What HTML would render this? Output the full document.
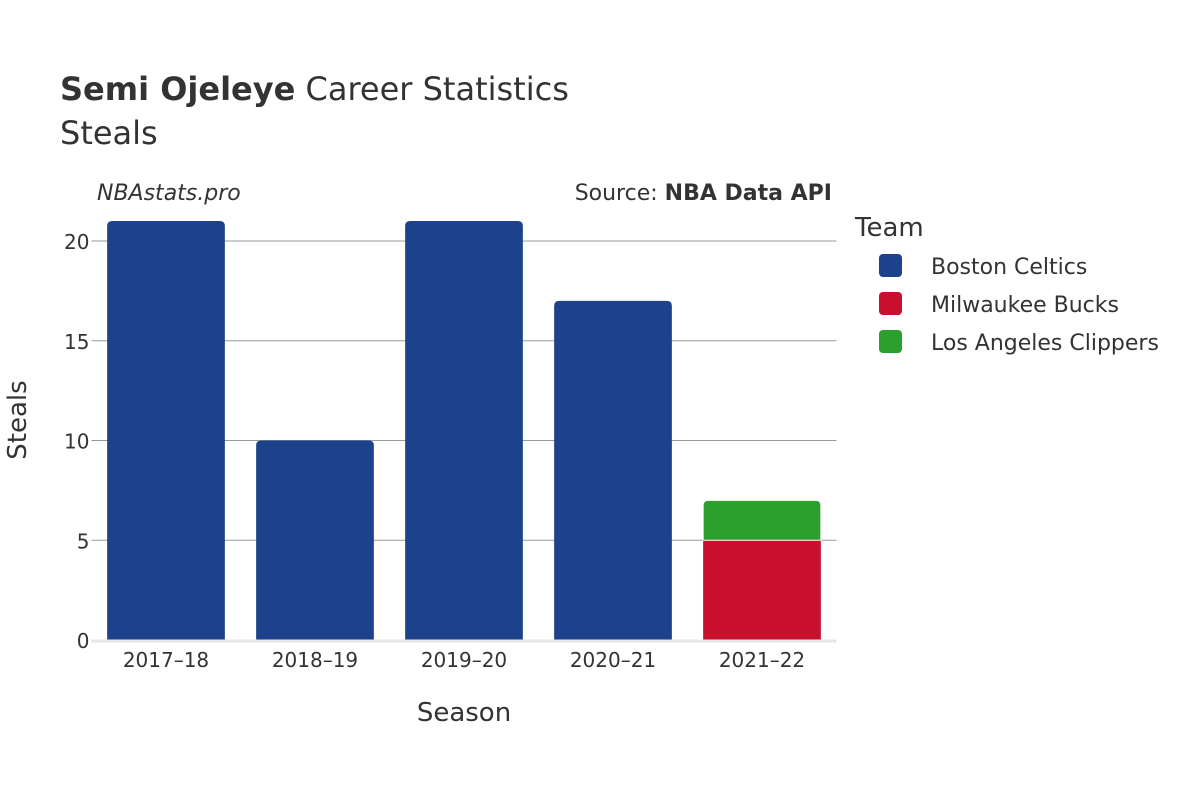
<!DOCTYPE html>
<html><head><meta charset="utf-8"><style>
body{margin:0;background:#fff;}
svg text{font-family:"DejaVu Sans","Liberation Sans",sans-serif;fill:#333;}
</style></head><body>
<svg id="chart" width="1200" height="800" viewBox="0 0 1200 800" xmlns="http://www.w3.org/2000/svg">
<text x="60" y="100" font-size="32"><tspan font-weight="bold">Semi Ojeleye</tspan> Career Statistics</text>
<text x="60" y="144" font-size="32">Steals</text>
<text x="97" y="200" font-size="22" font-style="italic">NBAstats.pro</text>
<text x="832" y="200" font-size="22" text-anchor="end">Source: <tspan font-weight="bold">NBA Data API</tspan></text>
<g id="grid"></g>
<g id="bars"></g>
<g id="xticks"></g>
<text x="464" y="721" font-size="26" text-anchor="middle">Season</text>
<text transform="translate(26,420) rotate(-90)" font-size="26" text-anchor="middle">Steals</text>
<text x="855" y="236" font-size="26">Team</text>
<g id="legend"></g>
</svg>
<script>
const seasons = ["2017–18","2018–19","2019–20","2020–21","2021–22"];
const teams = ["Boston Celtics","Milwaukee Bucks","Los Angeles Clippers"];
const teamColors = ["#1b428a","#c8102e","#2ca02c"];
const celticsSteals = [21,10,21,17,0];
const bucksSteals = [0,0,0,0,5];
const clippersSteals = [0,0,0,0,2];
const yTicks = [0,5,10,15,20];

const NS="http://www.w3.org/2000/svg";
const X0=91.5,X1=836.5,Y0=640,PX=19.95;
const band=(X1-X0)/seasons.length;
const xc=i=>X0+band*(i+0.5);
const y=v=>Y0-v*PX;
function mk(t,a,p){const e=document.createElementNS(NS,t);for(const k in a)e.setAttribute(k,a[k]);p.appendChild(e);return e;}
const grid=document.getElementById('grid');
yTicks.forEach(t=>{
  if(t>0){const l=mk('line',{x1:X0,x2:X1,y1:y(t),y2:y(t),stroke:'#999','stroke-width':1},grid);
  
  }
  const tx=mk('text',{x:X0-2,y:y(t)+8,'font-size':20,'text-anchor':'end'},grid);tx.textContent=t;
  
  
});
const bars=document.getElementById('bars');
const series=[celticsSteals,bucksSteals,clippersSteals];
const bw=band*0.79;
function barPath(x,yt,yb,w,r,rounded){
  if(!rounded||yb-yt<r) return `M${x},${yb}V${yt}H${x+w}V${yb}Z`;
  return `M${x},${yb}V${yt+r}Q${x},${yt} ${x+r},${yt}H${x+w-r}Q${x+w},${yt} ${x+w},${yt+r}V${yb}Z`;
}
seasons.forEach((s,i)=>{
  let base=0;
  const total=series.reduce((a,arr)=>a+arr[i],0);
  series.forEach((arr,k)=>{
    const v=arr[i]; if(!v) return;
    const top=base+v;
    const p=mk('path',{d:barPath(xc(i)-bw/2,y(top),y(base),bw,5,top===total),fill:teamColors[k],stroke:'#fff','stroke-width':top===total&&base>0?1:0},bars);
    
    
    base=top;
  });
  const tx=mk('text',{x:xc(i),y:667,'font-size':20,'text-anchor':'middle'},document.getElementById('xticks'));tx.textContent=s;
  
  
});
const zl=mk('line',{x1:X0,x2:X1,y1:Y0+1,y2:Y0+1,stroke:'#e6e6e6','stroke-width':3},bars);


const lg=document.getElementById('legend');
teams.forEach((t,k)=>{
  const g=mk('g',{},lg);
  
  
  mk('rect',{x:879,y:254+k*38,width:23,height:23,rx:4,fill:teamColors[k]},g);
  const tx=mk('text',{x:931,y:274+k*38,'font-size':22},g);tx.textContent=t;
});
</script>
</body></html>
